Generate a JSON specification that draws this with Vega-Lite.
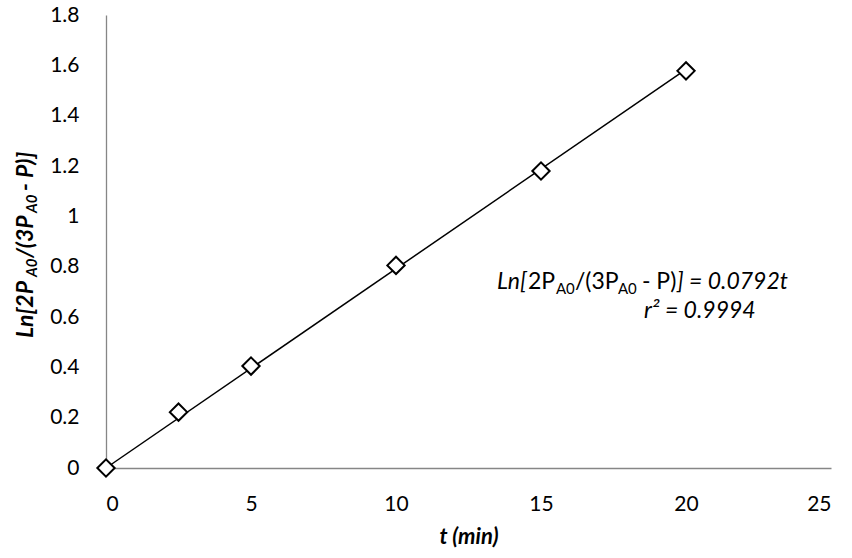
{
  "$schema": "https://vega.github.io/schema/vega-lite/v6.json",
  "width": 725,
  "height": 453,
  "autosize": "none",
  "padding": {"left": 106, "top": 15, "right": 21, "bottom": 90},
  "background": "white",
  "config": {
    "view": {"stroke": null},
    "font": "Lato",
    "axis": {
      "grid": false,
      "ticks": false,
      "domainColor": "#868686",
      "domainWidth": 1.3,
      "labelFont": "Lato",
      "labelFontSize": 21,
      "labelColor": "#000000",
      "titleFont": "Lato",
      "titleColor": "#000000"
    }
  },
  "resolve": {"axis": {"x": "independent", "y": "independent"}},
  "layer": [
    {
      "data": {"values": [{"t": 0, "v": 0}, {"t": 20, "v": 1.584}]},
      "mark": {"type": "line", "color": "#000000", "strokeWidth": 1.5},
      "encoding": {
        "x": {"field": "t", "type": "quantitative", "scale": {"domain": [0, 25], "nice": false},
              "axis": {"values": [0, 5, 10, 15, 20, 25], "labelPadding": 25, "title": "t (min)", "titleFontSize": 22, "titleFontWeight": "bold", "titleFontStyle": "italic", "titlePadding": 12}},
        "y": {"field": "v", "type": "quantitative", "scale": {"domain": [0, 1.8], "nice": false},
              "axis": {"values": [0, 0.2, 0.4, 0.6, 0.8, 1, 1.2, 1.4, 1.6, 1.8], "format": "~g", "labelPadding": 27, "title": null}}
      }
    },
    {
      "data": {"values": [
        {"t": 0, "v": 0},
        {"t": 2.5, "v": 0.222},
        {"t": 5, "v": 0.405},
        {"t": 10, "v": 0.805},
        {"t": 15, "v": 1.18},
        {"t": 20, "v": 1.578}
      ]},
      "mark": {"type": "point", "shape": "diamond", "size": 300, "filled": true, "fill": "#ffffff", "stroke": "#000000", "strokeWidth": 2, "opacity": 1},
      "encoding": {
        "x": {"field": "t", "type": "quantitative", "scale": {"domain": [0, 25], "nice": false}, "axis": null},
        "y": {"field": "v", "type": "quantitative", "scale": {"domain": [0, 1.8], "nice": false}, "axis": null}
      }
    },
    {
      "data": {"values": [{}]},
      "mark": {"type": "text", "text": "Ln[2P", "font": "Lato", "fontSize": 23, "fontWeight": "bold", "fontStyle": "italic", "angle": 270, "align": "left", "baseline": "middle", "dx": 0, "color": "#000000"},
      "encoding": {
        "x": {"datum": -2.76, "type": "quantitative", "scale": {"domain": [0, 25], "nice": false}, "axis": null},
        "y": {"datum": 0.5165, "type": "quantitative", "scale": {"domain": [0, 1.8], "nice": false}, "axis": null}
      }
    },
    {
      "data": {"values": [{}]},
      "mark": {"type": "text", "text": "A0", "font": "Lato", "fontSize": 15, "fontWeight": "bold", "fontStyle": "italic", "angle": 270, "align": "left", "baseline": "middle", "dx": 61, "dy": 6, "color": "#000000"},
      "encoding": {
        "x": {"datum": -2.76, "type": "quantitative", "scale": {"domain": [0, 25], "nice": false}, "axis": null},
        "y": {"datum": 0.5165, "type": "quantitative", "scale": {"domain": [0, 1.8], "nice": false}, "axis": null}
      }
    },
    {
      "data": {"values": [{}]},
      "mark": {"type": "text", "text": "/(3P", "font": "Lato", "fontSize": 23, "fontWeight": "bold", "fontStyle": "italic", "angle": 270, "align": "left", "baseline": "middle", "dx": 80, "color": "#000000"},
      "encoding": {
        "x": {"datum": -2.76, "type": "quantitative", "scale": {"domain": [0, 25], "nice": false}, "axis": null},
        "y": {"datum": 0.5165, "type": "quantitative", "scale": {"domain": [0, 1.8], "nice": false}, "axis": null}
      }
    },
    {
      "data": {"values": [{}]},
      "mark": {"type": "text", "text": "A0", "font": "Lato", "fontSize": 15, "fontWeight": "bold", "fontStyle": "italic", "angle": 270, "align": "left", "baseline": "middle", "dx": 125, "dy": 6, "color": "#000000"},
      "encoding": {
        "x": {"datum": -2.76, "type": "quantitative", "scale": {"domain": [0, 25], "nice": false}, "axis": null},
        "y": {"datum": 0.5165, "type": "quantitative", "scale": {"domain": [0, 1.8], "nice": false}, "axis": null}
      }
    },
    {
      "data": {"values": [{}]},
      "mark": {"type": "text", "text": " - P)]", "font": "Lato", "fontSize": 23, "fontWeight": "bold", "fontStyle": "italic", "angle": 270, "align": "left", "baseline": "middle", "dx": 147, "color": "#000000"},
      "encoding": {
        "x": {"datum": -2.76, "type": "quantitative", "scale": {"domain": [0, 25], "nice": false}, "axis": null},
        "y": {"datum": 0.5165, "type": "quantitative", "scale": {"domain": [0, 1.8], "nice": false}, "axis": null}
      }
    },
    {
      "data": {"values": [{}]},
      "mark": {"type": "text", "text": "Ln[", "font": "Lato", "fontSize": 23, "fontStyle": "italic", "align": "left", "baseline": "alphabetic", "dx": 0, "color": "#000000"},
      "encoding": {
        "x": {"datum": 13.48, "type": "quantitative", "scale": {"domain": [0, 25], "nice": false}, "axis": null},
        "y": {"datum": 0.711, "type": "quantitative", "scale": {"domain": [0, 1.8], "nice": false}, "axis": null}
      }
    },
    {
      "data": {"values": [{}]},
      "mark": {"type": "text", "text": "2P", "font": "Lato", "fontSize": 23, "align": "left", "baseline": "alphabetic", "dx": 31, "color": "#000000"},
      "encoding": {
        "x": {"datum": 13.48, "type": "quantitative", "scale": {"domain": [0, 25], "nice": false}, "axis": null},
        "y": {"datum": 0.711, "type": "quantitative", "scale": {"domain": [0, 1.8], "nice": false}, "axis": null}
      }
    },
    {
      "data": {"values": [{}]},
      "mark": {"type": "text", "text": "A0", "font": "Lato", "fontSize": 15, "align": "left", "baseline": "alphabetic", "dx": 59, "dy": 5, "color": "#000000"},
      "encoding": {
        "x": {"datum": 13.48, "type": "quantitative", "scale": {"domain": [0, 25], "nice": false}, "axis": null},
        "y": {"datum": 0.711, "type": "quantitative", "scale": {"domain": [0, 1.8], "nice": false}, "axis": null}
      }
    },
    {
      "data": {"values": [{}]},
      "mark": {"type": "text", "text": "/(3P", "font": "Lato", "fontSize": 23, "align": "left", "baseline": "alphabetic", "dx": 78, "color": "#000000"},
      "encoding": {
        "x": {"datum": 13.48, "type": "quantitative", "scale": {"domain": [0, 25], "nice": false}, "axis": null},
        "y": {"datum": 0.711, "type": "quantitative", "scale": {"domain": [0, 1.8], "nice": false}, "axis": null}
      }
    },
    {
      "data": {"values": [{}]},
      "mark": {"type": "text", "text": "A0", "font": "Lato", "fontSize": 15, "align": "left", "baseline": "alphabetic", "dx": 121, "dy": 5, "color": "#000000"},
      "encoding": {
        "x": {"datum": 13.48, "type": "quantitative", "scale": {"domain": [0, 25], "nice": false}, "axis": null},
        "y": {"datum": 0.711, "type": "quantitative", "scale": {"domain": [0, 1.8], "nice": false}, "axis": null}
      }
    },
    {
      "data": {"values": [{}]},
      "mark": {"type": "text", "text": " - P)", "font": "Lato", "fontSize": 23, "align": "left", "baseline": "alphabetic", "dx": 145, "color": "#000000"},
      "encoding": {
        "x": {"datum": 13.48, "type": "quantitative", "scale": {"domain": [0, 25], "nice": false}, "axis": null},
        "y": {"datum": 0.711, "type": "quantitative", "scale": {"domain": [0, 1.8], "nice": false}, "axis": null}
      }
    },
    {
      "data": {"values": [{}]},
      "mark": {"type": "text", "text": "] = 0.0792t", "font": "Lato", "fontSize": 23, "fontStyle": "italic", "align": "left", "baseline": "alphabetic", "dx": 180, "color": "#000000"},
      "encoding": {
        "x": {"datum": 13.48, "type": "quantitative", "scale": {"domain": [0, 25], "nice": false}, "axis": null},
        "y": {"datum": 0.711, "type": "quantitative", "scale": {"domain": [0, 1.8], "nice": false}, "axis": null}
      }
    },
    {
      "data": {"values": [{}]},
      "mark": {"type": "text", "text": "r² = 0.9994", "font": "Lato", "fontSize": 23, "fontStyle": "italic", "align": "left", "baseline": "alphabetic", "color": "#000000"},
      "encoding": {
        "x": {"datum": 18.55, "type": "quantitative", "scale": {"domain": [0, 25], "nice": false}, "axis": null},
        "y": {"datum": 0.596, "type": "quantitative", "scale": {"domain": [0, 1.8], "nice": false}, "axis": null}
      }
    }
  ]
}
